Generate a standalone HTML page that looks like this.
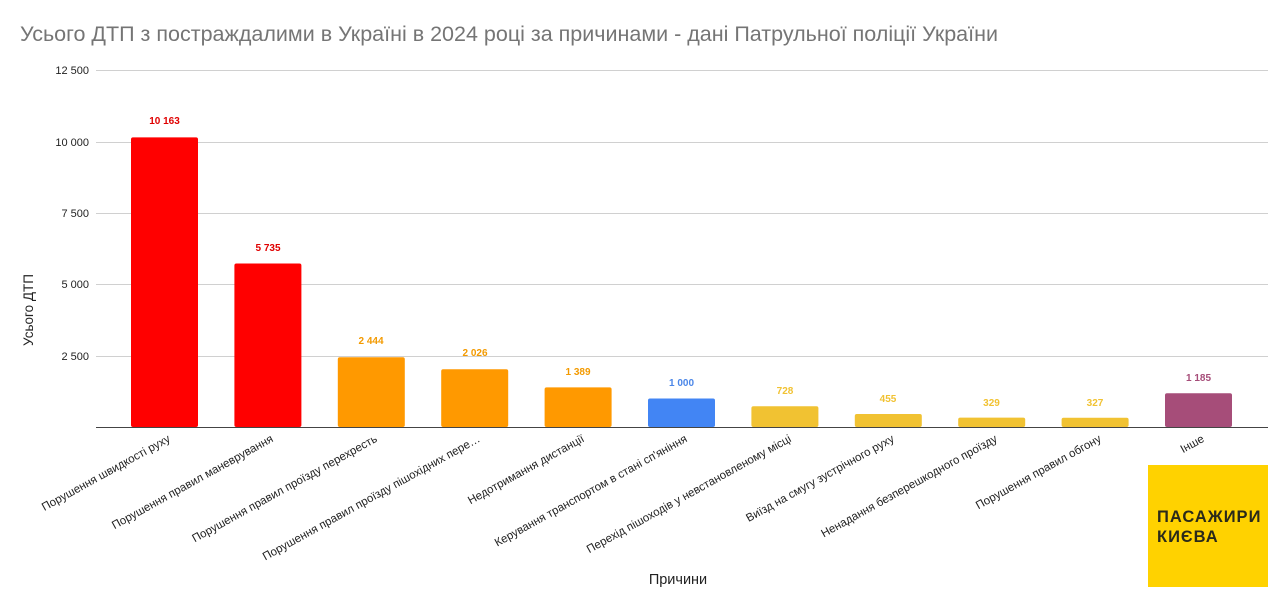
<!DOCTYPE html>
<html><head><meta charset="utf-8"><style>
html,body{margin:0;padding:0;background:#fff;}
svg{display:block;font-family:"Liberation Sans",Arial,sans-serif;}
</style></head><body>
<svg width="1280" height="597" viewBox="0 0 1280 597" xmlns="http://www.w3.org/2000/svg">
<text x="20" y="41" font-size="21.5" fill="#757575">Усього ДТП з постраждалими в Україні в 2024 році за причинами - дані Патрульної поліції України</text>
<g stroke="#d0d0d0" stroke-width="1">
<line x1="96" x2="1268" y1="70.5" y2="70.5"/>
<line x1="96" x2="1268" y1="142.5" y2="142.5"/>
<line x1="96" x2="1268" y1="213.5" y2="213.5"/>
<line x1="96" x2="1268" y1="284.5" y2="284.5"/>
<line x1="96" x2="1268" y1="356.5" y2="356.5"/>
</g>
<g font-size="11" fill="#222" text-anchor="end">
<text x="89" y="74">12 500</text>
<text x="89" y="146">10 000</text>
<text x="89" y="217">7 500</text>
<text x="89" y="288">5 000</text>
<text x="89" y="360">2 500</text>
</g>
<text transform="translate(33,310) rotate(-90)" font-size="13.5" fill="#222" text-anchor="middle">Усього ДТП</text>
<g id="bars">
<rect x="131" y="137.4" width="67" height="289.6" fill="#ff0000" rx="2"/>
<rect x="234.4" y="263.5" width="67" height="163.5" fill="#ff0000" rx="2"/>
<rect x="337.8" y="357.3" width="67" height="69.7" fill="#ff9900" rx="2"/>
<rect x="441.2" y="369.3" width="67" height="57.7" fill="#ff9900" rx="2"/>
<rect x="544.6" y="387.4" width="67" height="39.6" fill="#ff9900" rx="2"/>
<rect x="648" y="398.5" width="67" height="28.5" fill="#4285f4" rx="2"/>
<rect x="751.4" y="406.3" width="67" height="20.7" fill="#f1c232" rx="2"/>
<rect x="854.8" y="414" width="67" height="13" fill="#f1c232" rx="2"/>
<rect x="958.2" y="417.6" width="67" height="9.4" fill="#f1c232" rx="2"/>
<rect x="1061.6" y="417.7" width="67" height="9.3" fill="#f1c232" rx="2"/>
<rect x="1165" y="393.2" width="67" height="33.8" fill="#a64d79" rx="2"/>
</g>
<line x1="96" x2="1268" y1="427.5" y2="427.5" stroke="#444" stroke-width="1"/>
<g font-size="10" font-weight="bold" text-anchor="middle">
<text x="164.5" y="124" fill="#e00000">10 163</text>
<text x="268" y="251" fill="#e00000">5 735</text>
<text x="371" y="344" fill="#f39a00">2 444</text>
<text x="475" y="356" fill="#f39a00">2 026</text>
<text x="578" y="375" fill="#f39a00">1 389</text>
<text x="681.5" y="386" fill="#4a86e8">1 000</text>
<text x="785" y="394" fill="#f1c232">728</text>
<text x="888" y="402" fill="#f1c232">455</text>
<text x="991.5" y="406" fill="#f1c232">329</text>
<text x="1095" y="406" fill="#f1c232">327</text>
<text x="1198.5" y="381" fill="#a64d79">1 185</text>
</g>
<g font-size="11.5" fill="#222" text-anchor="end">
<text transform="translate(171,441) rotate(-29)">Порушення швидкості руху</text>
<text transform="translate(274,441) rotate(-29)">Порушення правил маневрування</text>
<text transform="translate(378,441) rotate(-29)">Порушення правил проїзду перехресть</text>
<text transform="translate(481,441) rotate(-29)">Порушення правил проїзду пішохідних пере…</text>
<text transform="translate(585,441) rotate(-29)">Недотримання дистанції</text>
<text transform="translate(688,441) rotate(-29)">Керування транспортом в стані сп'яніння</text>
<text transform="translate(792,441) rotate(-29)">Перехід пішоходів у невстановленому місці</text>
<text transform="translate(895,441) rotate(-29)">Виїзд на смугу зустрічного руху</text>
<text transform="translate(998,441) rotate(-29)">Ненадання безперешкодного проїзду</text>
<text transform="translate(1102,441) rotate(-29)">Порушення правил обгону</text>
<text transform="translate(1205,441) rotate(-29)">Інше</text>
</g>
<text x="678" y="584" font-size="14.5" fill="#222" text-anchor="middle">Причини</text>
<rect x="1148" y="465" width="120" height="122" fill="#ffd200"/>
<g font-size="16.5" font-weight="bold" fill="#2a2a1a" letter-spacing="1">
<text x="1157" y="522">ПАСАЖИРИ</text>
<text x="1157" y="542">КИЄВА</text>
</g>
</svg>
</body></html>
